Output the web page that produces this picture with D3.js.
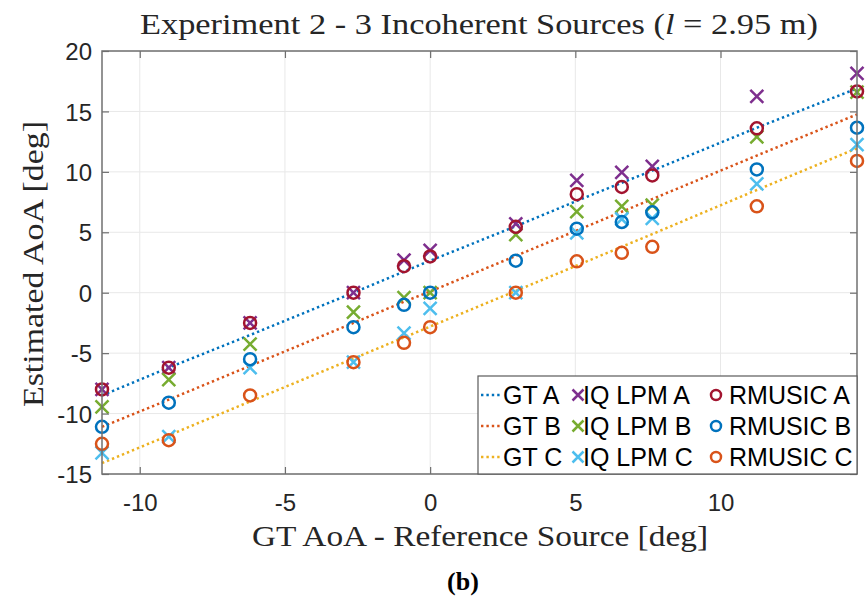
<!DOCTYPE html>
<html>
<head>
<meta charset="utf-8">
<script src="https://cdn.jsdelivr.net/npm/d3@7"></script>
<style>
  body { margin: 0; background: #fff; }
  svg { display: block; }
</style>
</head>
<body>
<svg id="chart" width="868" height="599"></svg>
<script>
/* global d3: false */
/* eslint-env browser */

// GT AoA of the reference source [deg] (x positions)
const gtAoa = [-11.3, -9.0, -6.2, -2.64, -0.9, 0, 2.95, 5.05, 6.6, 7.65, 11.25, 14.7];

// ground truth lines
const gtA = [-8.5, -6.2, -3.5, 0.0, 1.75, 2.65, 5.5, 7.6, 9.1, 10.1, 13.65, 16.9];
const gtB = [-11.1, -8.85, -6.05, -2.5, -0.75, 0.1, 3.05, 5.15, 6.7, 7.75, 11.35, 14.75];
const gtC = [-14.1, -11.8, -9.0, -5.45, -3.7, -2.8, 0.15, 2.25, 3.8, 4.85, 8.5, 11.95];

// IQ LPM estimates
const iqA = [-8.0, -6.2, -2.5, 0.0, 2.7, 3.5, 5.7, 9.3, 9.95, 10.45, 16.25, 18.15];
const iqB = [-9.45, -7.2, -4.25, -1.6, -0.4, 0.0, 4.8, 6.7, 7.15, 7.25, 12.9, 16.6];
const iqC = [-13.25, -11.9, -6.2, -5.75, -3.35, -1.3, 0.0, 4.95, 6.1, 6.15, 9.0, 12.25];

// RMUSIC estimates
const rmA = [-8.0, -6.2, -2.5, 0.0, 2.2, 3.0, 5.45, 8.15, 8.75, 9.7, 13.6, 16.65];
const rmB = [-11.1, -9.1, -5.5, -2.85, -1.0, 0.0, 2.65, 5.3, 5.85, 6.65, 10.2, 13.65];
const rmC = [-12.5, -12.2, -8.5, -5.75, -4.15, -2.85, 0.0, 2.6, 3.3, 3.8, 7.15, 10.9];

const xTicks = [-10, -5, 0, 5, 10];
const yTicks = [-15, -10, -5, 0, 5, 10, 15, 20];

const series = [
  { name: 'GT A', kind: 'line', color: '#0072BD', values: gtA },
  { name: 'GT B', kind: 'line', color: '#D95319', values: gtB },
  { name: 'GT C', kind: 'line', color: '#EDB120', values: gtC },
  { name: 'IQ LPM A', kind: 'cross', color: '#7E2F8E', values: iqA },
  { name: 'IQ LPM B', kind: 'cross', color: '#77AC30', values: iqB },
  { name: 'IQ LPM C', kind: 'cross', color: '#4DBEEE', values: iqC },
  { name: 'RMUSIC A', kind: 'circle', color: '#A2142F', values: rmA },
  { name: 'RMUSIC B', kind: 'circle', color: '#0072BD', values: rmB },
  { name: 'RMUSIC C', kind: 'circle', color: '#D95319', values: rmC },
];

const svg = d3.select('#chart');
const plot = { left: 102, right: 857, top: 51, bottom: 474 };
const sansFont = '"Liberation Sans", Arial, sans-serif';
const serifFont = '"Liberation Serif", "Times New Roman", serif';

const x = d3.scaleLinear().domain([-11.3, 14.7]).range([plot.left, plot.right]);
const y = d3.scaleLinear().domain([-15, 20]).range([plot.bottom, plot.top]);

function drawCross(g, cx, cy, color, s) {
  g.append('path')
    .attr('d', `M${cx - s},${cy - s}L${cx + s},${cy + s}M${cx - s},${cy + s}L${cx + s},${cy - s}`)
    .attr('stroke', color)
    .attr('stroke-width', 2.5)
    .attr('fill', 'none');
}

function drawCircle(g, cx, cy, color, r) {
  g.append('circle')
    .attr('cx', cx)
    .attr('cy', cy)
    .attr('r', r)
    .attr('stroke', color)
    .attr('stroke-width', 2.5)
    .attr('fill', 'none');
}

function drawGrid() {
  const grid = svg.append('g').attr('stroke', '#e8e8e8').attr('stroke-width', 1);
  xTicks.forEach((t) => {
    grid.append('line')
      .attr('x1', x(t)).attr('x2', x(t))
      .attr('y1', plot.top).attr('y2', plot.bottom);
  });
  yTicks.forEach((t) => {
    grid.append('line')
      .attr('x1', plot.left).attr('x2', plot.right)
      .attr('y1', y(t)).attr('y2', y(t));
  });
}

function drawAxes() {
  const tickLen = 7;
  // plain hyphen for negatives, like the original
  const fmt = d => String(d);
  const bottomAxis = d3.axisBottom(x).tickValues(xTicks).tickSizeInner(-tickLen)
    .tickSizeOuter(0).tickPadding(20).tickFormat(fmt);
  const topAxis = d3.axisTop(x).tickValues(xTicks).tickSizeInner(-tickLen)
    .tickSizeOuter(0).tickFormat('');
  const leftAxis = d3.axisLeft(y).tickValues(yTicks).tickSizeInner(-tickLen)
    .tickSizeOuter(0).tickPadding(10).tickFormat(fmt);
  const rightAxis = d3.axisRight(y).tickValues(yTicks).tickSizeInner(-tickLen)
    .tickSizeOuter(0).tickFormat('');

  const axes = [
    svg.append('g').attr('transform', `translate(0,${plot.bottom})`).call(bottomAxis),
    svg.append('g').attr('transform', `translate(0,${plot.top})`).call(topAxis),
    svg.append('g').attr('transform', `translate(${plot.left},0)`).call(leftAxis),
    svg.append('g').attr('transform', `translate(${plot.right},0)`).call(rightAxis),
  ];
  axes.forEach((a) => {
    a.select('.domain').remove();
    a.selectAll('.tick line').attr('stroke', '#6e6e6e').attr('stroke-width', 1.2);
    a.selectAll('.tick text')
      .attr('fill', '#262626')
      .attr('font-family', sansFont)
      .attr('font-size', 24);
  });
  axes[0].selectAll('.tick text').attr('dy', '0.71em');
  axes[2].selectAll('.tick text').attr('dy', '0.36em');

  svg.append('rect')
    .attr('x', plot.left)
    .attr('y', plot.top)
    .attr('width', plot.right - plot.left)
    .attr('height', plot.bottom - plot.top)
    .attr('fill', 'none')
    .attr('stroke', '#707070')
    .attr('stroke-width', 1.5);
}

function drawSeries() {
  const line = d3.line().x((d, i) => x(gtAoa[i])).y(d => y(d));
  series.filter(s => s.kind === 'line').forEach((s) => {
    svg.append('path')
      .attr('d', line(s.values))
      .attr('fill', 'none')
      .attr('stroke', s.color)
      .attr('stroke-width', 2.5)
      .attr('stroke-dasharray', '2.4 3');
  });

  const marks = svg.append('g');
  series.filter(s => s.kind !== 'line').forEach((s) => {
    s.values.forEach((v, i) => {
      if (s.kind === 'cross') {
        drawCross(marks, x(gtAoa[i]), y(v), s.color, 6.5);
      } else {
        drawCircle(marks, x(gtAoa[i]), y(v), s.color, 6);
      }
    });
  });
}

function drawLegend() {
  const box = { x: 478, y: 376, w: 379, h: 98 };
  const rowY = [395, 426, 457];
  const cols = [
    { sym: 481, text: 503 },
    { sym: 578, text: 583 },
    { sym: 716, text: 729 },
  ];
  const g = svg.append('g');
  g.append('rect')
    .attr('x', box.x).attr('y', box.y)
    .attr('width', box.w).attr('height', box.h)
    .attr('fill', '#fff')
    .attr('stroke', '#5a5a5a')
    .attr('stroke-width', 1.2);

  series.forEach((s, k) => {
    const col = cols[Math.floor(k / 3)];
    const cy = rowY[k % 3];
    if (s.kind === 'line') {
      g.append('line')
        .attr('x1', col.sym).attr('x2', col.sym + 19)
        .attr('y1', cy).attr('y2', cy)
        .attr('stroke', s.color)
        .attr('stroke-width', 2.5)
        .attr('stroke-dasharray', '2.4 3');
    } else if (s.kind === 'cross') {
      drawCross(g, col.sym, cy, s.color, 5.5);
    } else {
      drawCircle(g, col.sym, cy, s.color, 5);
    }
    g.append('text')
      .attr('x', col.text)
      .attr('y', cy)
      .attr('dy', '0.36em')
      .attr('font-family', sansFont)
      .attr('font-size', 25)
      .attr('fill', '#000')
      .text(s.name);
  });
}

function drawLabels() {
  const title = svg.append('text')
    .attr('x', 479)
    .attr('y', 34)
    .attr('text-anchor', 'middle')
    .attr('font-family', serifFont)
    .attr('font-size', 30)
    .attr('textLength', 678)
    .attr('lengthAdjust', 'spacingAndGlyphs')
    .attr('fill', '#262626');
  title.append('tspan').text('Experiment 2 - 3 Incoherent Sources (');
  title.append('tspan').attr('font-style', 'italic').text('l');
  title.append('tspan').text(' = 2.95 m)');

  svg.append('text')
    .attr('x', 480)
    .attr('y', 546)
    .attr('text-anchor', 'middle')
    .attr('font-family', serifFont)
    .attr('font-size', 30)
    .attr('textLength', 456)
    .attr('lengthAdjust', 'spacingAndGlyphs')
    .attr('fill', '#262626')
    .text('GT AoA - Reference Source [deg]');

  svg.append('text')
    .attr('transform', 'translate(43,264) rotate(-90)')
    .attr('text-anchor', 'middle')
    .attr('font-family', serifFont)
    .attr('font-size', 30)
    .attr('textLength', 286)
    .attr('lengthAdjust', 'spacingAndGlyphs')
    .attr('fill', '#262626')
    .text('Estimated AoA [deg]');

  svg.append('text')
    .attr('x', 463)
    .attr('y', 590)
    .attr('text-anchor', 'middle')
    .attr('font-family', serifFont)
    .attr('font-weight', 'bold')
    .attr('font-size', 26)
    .attr('fill', '#000')
    .text('(b)');
}

drawGrid();
drawSeries();
drawAxes();
drawLegend();
drawLabels();
</script>
</body>
</html>
